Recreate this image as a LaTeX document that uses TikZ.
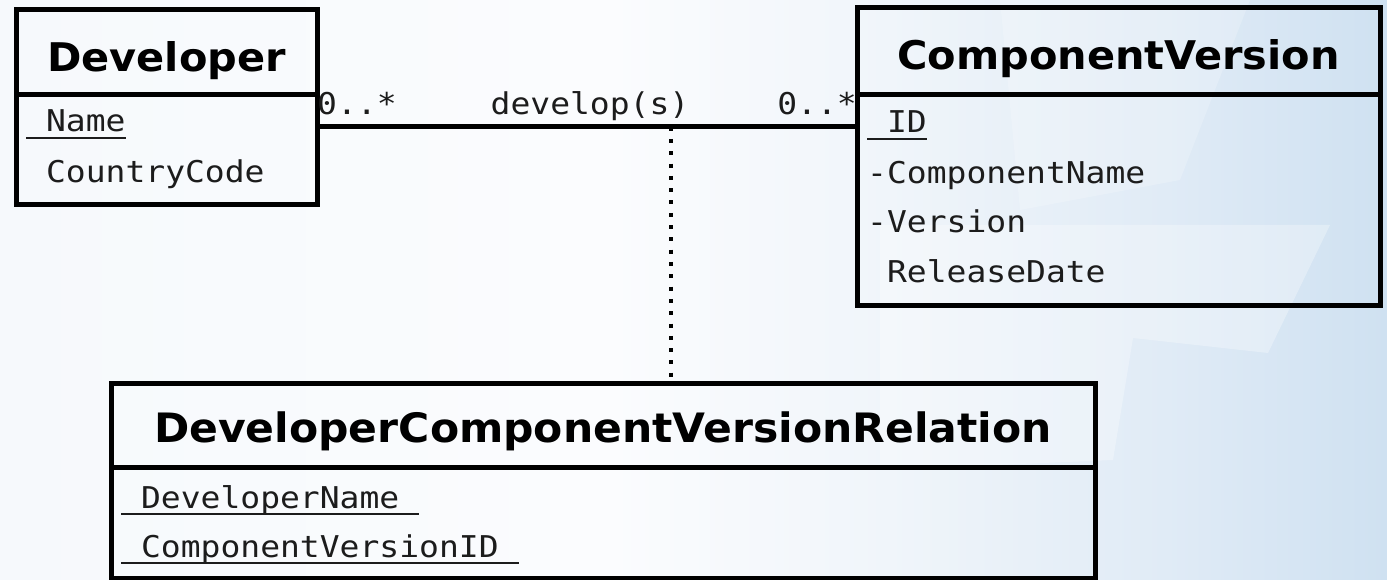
\documentclass[tikz,border=0pt]{standalone}
\usepackage{fontspec}
\setmainfont{DejaVu Sans}
\newfontfamily\titlefont[FakeStretch=1.05]{DejaVu Sans Bold}
\newfontfamily\attrfont[FakeStretch=1.1]{DejaVu Sans Mono}
\definecolor{inktext}{HTML}{1C1C1C}
% soft backdrop, near white on the left, light blue towards the right
% (the filled area spans 25bp..75bp of the shading)
\pgfdeclarehorizontalshading{backdrop}{100bp}{%
  color(0bp)=({rgb,255:red,246;green,249;blue,252});
  color(25bp)=({rgb,255:red,246;green,249;blue,252});
  color(47bp)=({rgb,255:red,251;green,252;blue,254});
  color(57bp)=({rgb,255:red,240;green,245;blue,250});
  color(67bp)=({rgb,255:red,224;green,235;blue,246});
  color(75bp)=({rgb,255:red,207;green,225;blue,241});
  color(100bp)=({rgb,255:red,207;green,225;blue,241})}
% key attribute: text with a rule under it, the rule as wide as the text
\newsavebox\keybox
\newcommand\keyattr[1]{\sbox\keybox{#1}\rlap{\rule[-7pt]{\wd\keybox}{2pt}}\usebox\keybox}
\begin{document}
\begin{tikzpicture}[x=1pt,y=-1pt,
  classpart/.style={draw=black, line width=5pt, outer sep=0pt, inner sep=0pt, anchor=north west},
  titletext/.style={anchor=base, inner sep=0pt, font=\titlefont\fontsize{39.5}{40}\selectfont},
  attr/.style={anchor=base west, inner sep=0pt, text=inktext, font=\attrfont\fontsize{30}{30}\selectfont},
  rolelabel/.style={attr, anchor=base},
  assoc/.style={line width=5pt},
  assocclass/.style={line width=4pt, dash pattern=on 4pt off 8.3pt, dash phase=0.3pt},
]
\useasboundingbox (0,0) rectangle (1387,580);

% backdrop
\shade[shading=backdrop] (0,0) rectangle (1387,580);
\fill[white, opacity=0.3] (880,225) -- (1330,225) -- (1268,353) -- (1133,338) -- (1113,460) -- (880,470) -- cycle;
\fill[white, opacity=0.2] (1000,0) -- (1250,0) -- (1180,180) -- (1020,210) -- cycle;

% Developer
\node[classpart, minimum width=301pt, minimum height=85pt] (devhead) at (16,10) {};
\node[classpart, minimum width=301pt, minimum height=110pt] (devbody) at (devhead.south west) {};
\node[titletext] (devtitle) at (166.5,72) {Developer};
\node[attr] (devname) at (26,132) {\keyattr{\ Name}};
\node[attr] (devcountry) at (26,183) {\ CountryCode};

% ComponentVersion
\node[classpart, minimum width=523pt, minimum height=87pt] (cvhead) at (857,8) {};
\node[classpart, minimum width=523pt, minimum height=210pt] (cvbody) at (cvhead.south west) {};
\node[titletext] (cvtitle) at (1118.5,70) {ComponentVersion};
\node[attr] (cvid) at (867,133) {\keyattr{\ ID}};
\node[attr] (cvcomp) at (867,184) {-ComponentName};
\node[attr] (cvversion) at (867,233) {-Version};
\node[attr] (cvdate) at (867,283) {\ ReleaseDate};

% DeveloperComponentVersionRelation
\node[classpart, minimum width=984pt, minimum height=84pt] (relhead) at (111,383) {};
\node[classpart, minimum width=984pt, minimum height=111pt] (relbody) at (relhead.south west) {};
\node[titletext, font=\titlefont\fontsize{40.5}{41}\selectfont] (reltitle) at (603,442) {DeveloperComponentVersionRelation};
\node[attr] (reldev) at (121,508) {\keyattr{\ DeveloperName\ }};
\node[attr] (relcv) at (121,557) {\keyattr{\ ComponentVersionID\ }};

% association and its association class
\path ([yshift=-32pt]devbody.north east) -- ([yshift=-32pt]cvbody.north west)
  coordinate[pos=0.6556] (assocpt);
\draw[assocclass] (assocpt) -- (assocpt |- relhead.north);
\draw[assoc] ([yshift=-32pt]devbody.north east) -- ([yshift=-32pt]cvbody.north west);
\node[attr] (multleft) at (317,115) {0..*};
\node[attr, anchor=base east] (multright) at (857,115) {0..*};
\node[rolelabel] (assocname) at (590,115) {develop(s)};
\end{tikzpicture}
\end{document}
